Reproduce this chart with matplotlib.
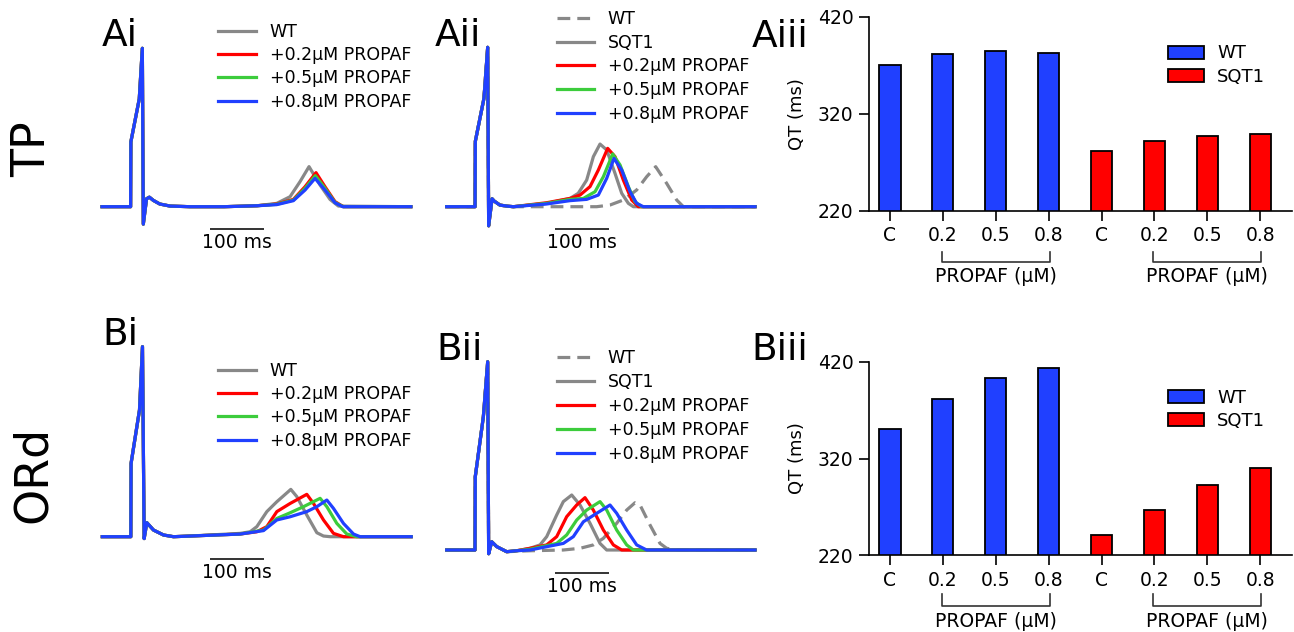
import matplotlib
matplotlib.use('Agg')
import matplotlib.pyplot as plt
import matplotlib.transforms as mtransforms
import numpy as np

plt.rcParams['font.family'] = ['DejaVu Sans']

# ---------------- data (time in ms, amplitude normalised to R peak) ----------------
# Panel Ai (TP model, WT cell + propafenone)
QRS_Ai_t = [0, 53, 53.5, 69, 74.7, 76.5, 82.5, 87.7, 95, 107, 126, 163, 226]
QRS_Ai_v = [0, 0, 0.41, 0.68, 1.0, -0.11, 0.05, 0.06, 0.04, 0.017, 0.004, 0, 0]
Ai_WT_t = [287, 323.5, 348.2, 366.7, 383.4, 403.8, 422.3, 437.7, 572]
Ai_WT_v = [0.006, 0.021, 0.063, 0.158, 0.253, 0.137, 0.046, 0.004, 0]
Ai_P02_t = [287, 323.5, 354.4, 376, 396.3, 413, 431.5, 447, 572]
Ai_P02_v = [0.006, 0.017, 0.046, 0.126, 0.215, 0.126, 0.032, 0, 0]
Ai_P05_t = [287, 323.5, 354.4, 376, 395.1, 413, 431.5, 447, 572]
Ai_P05_v = [0.006, 0.015, 0.042, 0.116, 0.196, 0.116, 0.027, 0, 0]
Ai_P08_t = [287, 323.5, 354.4, 376, 394.5, 413, 431.5, 445.7, 572]
Ai_P08_v = [0.006, 0.013, 0.038, 0.105, 0.179, 0.105, 0.025, 0, 0]

# Panel Aii (TP model, SQT1 + propafenone)
QRS_Aii_t = [0, 52.5, 53, 69, 75.9, 77.7, 84, 88, 98.7, 111, 123.4]
QRS_Aii_v = [0, 0, 0.41, 0.68, 1.0, -0.12, 0.05, 0.035, 0.01, 0.004, 0]
Aii_WT_t = [185.2, 277.8, 302.4, 327.1, 351.8, 370.3, 387, 407.4, 425.9, 438.3, 571]
Aii_WT_v = [0, 0, 0.0105, 0.042, 0.105, 0.188, 0.251, 0.146, 0.042, 0, 0]
Aii_SQT1_t = [185.2, 228.4, 243.6, 259.2, 271.6, 283.9, 296.3, 311.7, 324.1, 336.4, 345.7, 571]
Aii_SQT1_v = [0.021, 0.052, 0.084, 0.167, 0.314, 0.393, 0.356, 0.209, 0.084, 0.021, 0, 0]
Aii_P02_t = [185.2, 228.4, 246.9, 265.4, 280.8, 298.1, 311.7, 327.1, 342.6, 354.9, 571]
Aii_P02_v = [0.025, 0.052, 0.073, 0.126, 0.230, 0.366, 0.314, 0.167, 0.042, 0, 0]
Aii_P05_t = [185.2, 228.4, 253.1, 274.7, 290.1, 307.4, 321, 336.4, 348.7, 361.1, 571]
Aii_P05_v = [0.021, 0.046, 0.052, 0.094, 0.188, 0.331, 0.262, 0.126, 0.031, 0, 0]
Aii_P08_t = [185.2, 228.4, 259.2, 280.8, 296.3, 309.8, 324.1, 339.5, 351.8, 364.2, 571]
Aii_P08_v = [0.017, 0.038, 0.046, 0.073, 0.178, 0.303, 0.230, 0.094, 0.021, 0, 0]

# Panel Bi (ORd model, WT cell + propafenone)
QRS_Bi_t = [0, 52.8, 53.3, 68.9, 74.4, 77.5, 82.4, 94.8, 113.3, 131.8, 162.7]
QRS_Bi_v = [0, 0, 0.386, 0.667, 1.0, -0.01, 0.074, 0.035, 0.009, 0, 0.0035]
Bi_WT_t = [255.3, 273.8, 286.2, 304.7, 323.2, 349.1, 360.2, 378.7, 397.3, 409.6, 422, 572]
Bi_WT_v = [0.0175, 0.026, 0.053, 0.132, 0.184, 0.249, 0.211, 0.114, 0.021, 0.0035, 0, 0]
Bi_P02_t = [255.3, 286.2, 304.7, 323.2, 347.9, 378.7, 391.1, 409.6, 428.1, 446.6, 572]
Bi_P02_v = [0.014, 0.026, 0.053, 0.132, 0.175, 0.223, 0.175, 0.088, 0.0175, 0, 0]
Bi_P05_t = [255.3, 298.5, 323.2, 347.9, 372.6, 403.4, 415.8, 434.3, 452.8, 471.3, 572]
Bi_P05_v = [0.014, 0.035, 0.096, 0.126, 0.158, 0.202, 0.158, 0.070, 0.014, 0, 0]
Bi_P08_t = [255.3, 298.5, 323.2, 347.9, 378.7, 397.3, 415.8, 428.1, 446.6, 465.2, 477.5, 572]
Bi_P08_v = [0.014, 0.032, 0.088, 0.105, 0.132, 0.158, 0.193, 0.149, 0.070, 0.014, 0, 0]

# Panel Bii (ORd model, SQT1 + propafenone)
QRS_Bii_t = [0, 52.4, 52.9, 67.9, 75.9, 77.7, 83.3, 92.6, 111.1]
QRS_Bii_v = [0, 0, 0.389, 0.708, 1.0, -0.02, 0.044, 0.018, -0.009]
Bii_WT_t = [154.3, 216, 246.9, 271.6, 290.1, 314.8, 333.3, 348.7, 358, 376.5, 395, 407.4, 425.9, 571]
Bii_WT_v = [-0.004, 0, 0.009, 0.027, 0.062, 0.142, 0.212, 0.251, 0.239, 0.133, 0.035, 0.009, 0, 0]
Bii_SQT1_t = [129.6, 154.3, 172.8, 185.2, 203.7, 216, 231.5, 246.9, 265.4, 283.9, 296.3, 571]
Bii_SQT1_v = [-0.004, 0.009, 0.027, 0.071, 0.186, 0.257, 0.292, 0.239, 0.142, 0.035, 0, 0]
Bii_P02_t = [129.6, 154.3, 185.2, 203.7, 222.2, 240.7, 256.1, 271.6, 290.1, 308.6, 324.1, 571]
Bii_P02_v = [-0.004, 0.009, 0.027, 0.071, 0.177, 0.239, 0.278, 0.212, 0.106, 0.027, 0, 0]
Bii_P05_t = [129.6, 154.3, 203.7, 222.2, 240.7, 259.2, 283.9, 296.3, 314.8, 333.3, 345.7, 571]
Bii_P05_v = [-0.004, 0.004, 0.035, 0.080, 0.159, 0.212, 0.257, 0.212, 0.106, 0.027, 0, 0]
Bii_P08_t = [129.6, 154.3, 216, 234.5, 253.1, 277.8, 302.4, 314.8, 333.3, 351.8, 370.3, 571]
Bii_P08_v = [-0.004, 0, 0.035, 0.071, 0.150, 0.195, 0.239, 0.195, 0.106, 0.027, 0, 0]

# QT intervals (ms)
bar_labels = ['C', '0.2', '0.5', '0.8', 'C', '0.2', '0.5', '0.8']
QT_TP_WT = [370, 382, 385, 383]
QT_TP_SQT1 = [282, 292, 297, 299]
QT_ORd_WT = [350, 381, 403, 414]
QT_ORd_SQT1 = [241, 267, 293, 310]

SCALE_MS = 100

# ---------------- styling ----------------
GRAY = '#888888'
RED = '#ff0000'
GREEN = '#3ccc3c'
BLUE = '#2040ff'
DARK = '#333333'

W, H = 1294, 632
fig = plt.figure(figsize=(W / 100, H / 100), dpi=100)


def fx(x):
    return x / W


def fy(y):
    return 1 - y / H


def px_axes(l, t, r, b):
    return fig.add_axes([l / W, 1 - b / H, (r - l) / W, (b - t) / H])


PX_PER_MS = 0.54


def trace_panel(start_px, base_px, h_px, top_px, bot_px, qrs_t, qrs_v, curves,
                bar_px, text_px, leg_left, leg_top, spacing):
    end_ms = 580
    ax = px_axes(start_px - 5, top_px, start_px + end_ms * PX_PER_MS, bot_px)
    ax.set_xlim(-5 / PX_PER_MS, end_ms)
    ax.set_ylim((base_px - bot_px) / h_px, (base_px - top_px) / h_px)
    ax.axis('off')
    for t, v, col, ls, lab in curves:
        ax.plot(np.concatenate([qrs_t, t]), np.concatenate([qrs_v, v]), color=col,
                ls=ls, lw=2.3, label=lab, solid_joinstyle='round',
                dashes=(4.0, 2.2) if ls == '--' else (None, None))
    yb = (base_px - bar_px) / h_px
    ax.plot([200, 200 + SCALE_MS], [yb, yb], color=DARK, lw=1.4, solid_capstyle='butt',
            clip_on=False)
    ax.text(200 + SCALE_MS / 2, (base_px - text_px) / h_px, f'{SCALE_MS} ms',
            ha='center', va='center', fontsize=13.5, clip_on=False)
    ax.legend(loc='upper left', bbox_to_anchor=(fx(leg_left), fy(leg_top)),
              bbox_transform=fig.transFigure, frameon=False, borderpad=0,
              borderaxespad=0, handlelength=2.15, handletextpad=0.8,
              labelspacing=spacing, fontsize=12.5)
    return ax


def bar_panel(l, t, r, b, wt, sqt, leg_top, br_top, br_bot, br_text):
    ax = px_axes(l, t, r, b)
    x = np.arange(len(bar_labels))
    ax.bar(x[:4], wt, width=0.4, color=BLUE, edgecolor='black', lw=1.3, label='WT')
    ax.bar(x[4:], sqt, width=0.4, color=RED, edgecolor='black', lw=1.3, label='SQT1')
    ax.set_xlim(-0.4, 7.6)
    ax.set_ylim(220, 420)
    ax.set_yticks([220, 320, 420])
    ax.set_xticks(x)
    ax.set_xticklabels(bar_labels)
    for s in ['top', 'right']:
        ax.spines[s].set_visible(False)
    for s in ['left', 'bottom']:
        ax.spines[s].set_linewidth(1.2)
    ax.tick_params(length=7, width=1.2, labelsize=13.5, pad=4)
    trans = mtransforms.blended_transform_factory(ax.transData, ax.transAxes)
    for a, bb in [(1, 3), (5, 7)]:
        ax.plot([a - 0.02, a - 0.02, bb + 0.02, bb + 0.02], [br_top, br_bot, br_bot, br_top],
                transform=trans, clip_on=False, color=DARK, lw=1.2)
        ax.text((a + bb) / 2, br_text, 'PROPAF (µM)', transform=trans, ha='center',
                va='center', fontsize=13.5)
    ax.legend(loc='upper left', bbox_to_anchor=(fx(1168.3), fy(leg_top)),
              bbox_transform=fig.transFigure, frameon=False, borderpad=0,
              borderaxespad=0, handlelength=1.95, handletextpad=0.75,
              labelspacing=0.28, fontsize=13)
    fig.text(fx(796.7), fy((t + b) / 2), 'QT (ms)', rotation=90, ha='center',
             va='center', fontsize=13)
    return ax


# Ai
trace_panel(102, 206.7, 158.4, 10, 262, QRS_Ai_t, QRS_Ai_v,
            [(Ai_WT_t, Ai_WT_v, GRAY, '-', 'WT'),
             (Ai_P02_t, Ai_P02_v, RED, '-', '+0.2µM PROPAF'),
             (Ai_P05_t, Ai_P05_v, GREEN, '-', '+0.5µM PROPAF'),
             (Ai_P08_t, Ai_P08_v, BLUE, '-', '+0.8µM PROPAF')],
            229, 243, 218.3, 22.6, 0.31)
# Aii
trace_panel(446.7, 206.7, 159.4, 5, 262, QRS_Aii_t, QRS_Aii_v,
            [(Aii_WT_t, Aii_WT_v, GRAY, '--', 'WT'),
             (Aii_SQT1_t, Aii_SQT1_v, GRAY, '-', 'SQT1'),
             (Aii_P02_t, Aii_P02_v, RED, '-', '+0.2µM PROPAF'),
             (Aii_P05_t, Aii_P05_v, GREEN, '-', '+0.5µM PROPAF'),
             (Aii_P08_t, Aii_P08_v, BLUE, '-', '+0.8µM PROPAF')],
            229, 243, 556.7, 9.9, 0.33)
# Bi
trace_panel(102.3, 536.7, 190, 330, 590, QRS_Bi_t, QRS_Bi_v,
            [(Bi_WT_t, Bi_WT_v, GRAY, '-', 'WT'),
             (Bi_P02_t, Bi_P02_v, RED, '-', '+0.2µM PROPAF'),
             (Bi_P05_t, Bi_P05_v, GREEN, '-', '+0.5µM PROPAF'),
             (Bi_P08_t, Bi_P08_v, BLUE, '-', '+0.8µM PROPAF')],
            558.7, 572, 218.3, 361.6, 0.31)
# Bii
trace_panel(446.7, 550, 188.3, 340, 605, QRS_Bii_t, QRS_Bii_v,
            [(Bii_WT_t, Bii_WT_v, GRAY, '--', 'WT'),
             (Bii_SQT1_t, Bii_SQT1_v, GRAY, '-', 'SQT1'),
             (Bii_P02_t, Bii_P02_v, RED, '-', '+0.2µM PROPAF'),
             (Bii_P05_t, Bii_P05_v, GREEN, '-', '+0.5µM PROPAF'),
             (Bii_P08_t, Bii_P08_v, BLUE, '-', '+0.8µM PROPAF')],
            572.7, 587, 556.7, 349.2, 0.34)

# bar charts
bar_panel(868.8, 16.7, 1292, 211, QT_TP_WT, QT_TP_SQT1, 44.5, -0.21, -0.262, -0.338)
bar_panel(868.8, 361.7, 1292, 555.3, QT_ORd_WT, QT_ORd_SQT1, 388.8, -0.201, -0.262, -0.343)

# panel labels
for txt, x, y in [('Ai', 101.7, 46), ('Aii', 435, 46), ('Aiii', 751.7, 46.7),
                  ('Bi', 102.7, 345), ('Bii', 436, 360), ('Biii', 751.7, 360)]:
    fig.text(fx(x), fy(y), txt, ha='left', va='baseline', fontsize=27)

fig.text(fx(33), fy(149), 'TP', rotation=90, ha='center', va='center', fontsize=33)
fig.text(fx(33), fy(474), 'ORd', rotation=90, ha='center', va='center', fontsize=33)

fig.savefig('out.png', dpi=100)
